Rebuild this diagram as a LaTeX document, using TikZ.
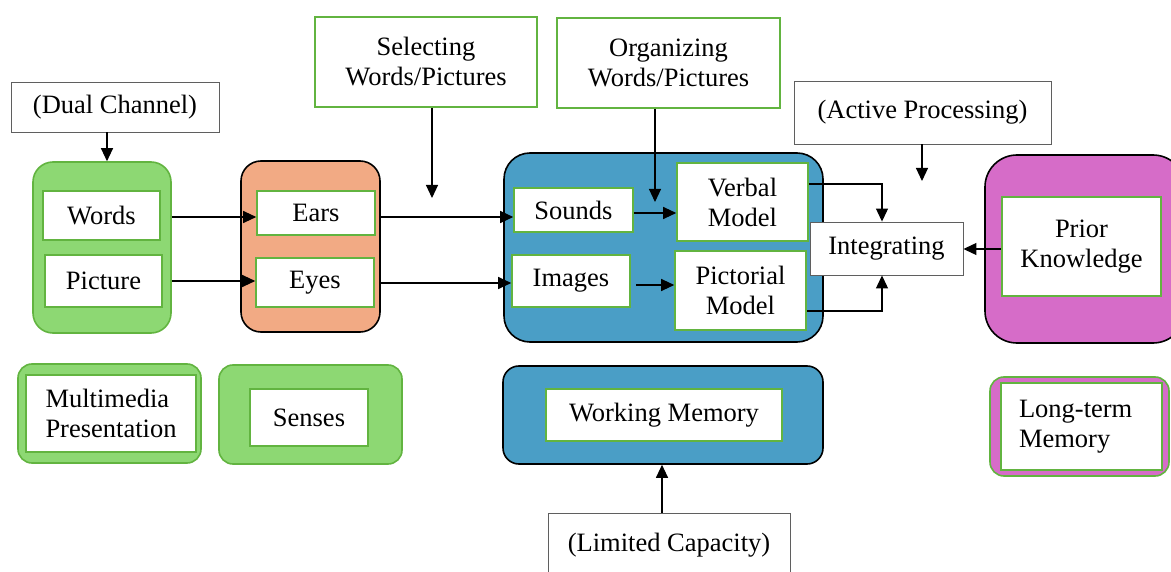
\documentclass[tikz,border=0pt]{standalone}
\usepackage{fontspec}
\setmainfont{Liberation Serif}
\usetikzlibrary{arrows.meta,calc}
\definecolor{lgreen}{RGB}{141,216,115}
\definecolor{gborder}{RGB}{98,180,64}
\definecolor{orangefill}{RGB}{242,170,132}
\definecolor{bluefill}{RGB}{74,158,198}
\definecolor{pinkfill}{RGB}{214,108,200}
\definecolor{notegray}{RGB}{95,95,95}
\begin{document}
\begin{tikzpicture}[x=1pt,y=-1pt,
  grp/.style={draw=black, line width=1.6pt, rounded corners=20pt, inner sep=0pt},
  leg/.style={draw=gborder, line width=1.6pt, rounded corners=14pt, inner sep=0pt},
  inbox/.style={draw=gborder, fill=white, line width=1.6pt, inner sep=2pt, align=center, font=\fontsize{26.5}{30}\selectfont},
  note/.style={draw=notegray, fill=white, line width=0.9pt, inner sep=2pt, align=center, font=\fontsize{26.5}{30}\selectfont},
  arr/.style={-{Triangle[length=13pt,width=12pt]}, line width=1.1pt},
  ln/.style={line width=1pt}]
\clip (0,0) rectangle (1171,572);
\fill[white] (0,0) rectangle (1171,572);

% group containers
\node[grp, draw=gborder, fill=lgreen, minimum width=138pt, minimum height=171pt] (mmgrp) at (102,247.5) {};
\node[grp, fill=orangefill, minimum width=139pt, minimum height=171pt] (sgrp) at (310.5,246.5) {};
\node[grp, fill=bluefill, rounded corners=26pt, minimum width=319pt, minimum height=189pt] (wmgrp) at (663.5,247.5) {};
\node[grp, fill=pinkfill, rounded corners=32pt, minimum width=200pt, minimum height=188pt] (ltgrp) at (1085,249) {};

% top notes
\node[note, minimum width=208pt, minimum height=50pt] (dual) at (115,107) {(Dual Channel)};
\node[inbox, minimum width=222pt, minimum height=90pt] (sel) at (426,62) {Selecting\\Words/Pictures};
\node[inbox, minimum width=223pt, minimum height=90pt] (org) at (668.5,63) {Organizing\\Words/Pictures};
\node[note, minimum width=257pt, minimum height=63pt] (act) at (922.5,112.5) {(Active Processing)};

% inner boxes
\node[inbox, minimum width=117pt, minimum height=49pt] (words) at (101.5,215.5) {Words};
\node[inbox, minimum width=117pt, minimum height=52pt] (pic) at (103.5,281) {Picture};
\node[inbox, minimum width=118pt, minimum height=44pt] (ears) at (316,213) {Ears};
\node[inbox, minimum width=118pt, minimum height=49pt] (eyes) at (315,282.5) {Eyes};
\node[inbox, minimum width=119pt, minimum height=44pt] (sounds) at (573.5,210) {Sounds};
\node[inbox, minimum width=118pt, minimum height=52pt] (images) at (571,281) {Images};
\node[inbox, minimum width=131pt, minimum height=78pt] (verbal) at (742.5,202) {Verbal\\Model};
\node[inbox, minimum width=131pt, minimum height=79pt] (pict) at (740.5,290.5) {Pictorial\\Model};
\node[note, minimum width=153pt, minimum height=53pt] (integ) at (886.5,248.5) {Integrating};
\node[inbox, minimum width=159pt, minimum height=99pt] (prior) at (1081.5,246.5) {Prior\\Knowledge};

% legend
\node[leg, fill=lgreen, minimum width=183pt, minimum height=99pt] (mmleg) at (109.5,413.5) {};
\node[inbox, align=left, minimum width=170pt, minimum height=77pt] (mmtxt) at (111,413.5) {Multimedia\\Presentation};
\node[leg, fill=lgreen, minimum width=183pt, minimum height=99pt] (sleg) at (310.5,414.5) {};
\node[inbox, minimum width=118pt, minimum height=57pt] (stxt) at (309,417.5) {Senses};
\node[grp, fill=bluefill, rounded corners=16pt, minimum width=320pt, minimum height=98pt] (wmleg) at (663,415) {};
\node[inbox, minimum width=236pt, minimum height=52pt] (wmtxt) at (664,415) {Working Memory};
\node[leg, fill=pinkfill, minimum width=179pt, minimum height=99pt] (ltleg) at (1079.5,426.5) {};
\node[inbox, align=left, minimum width=161pt, minimum height=87pt, text width=125pt] (lttxt) at (1081.5,426.5) {Long-term\\Memory};
\node[note, minimum width=242pt, minimum height=64pt] (lim) at (669,545) {(Limited Capacity)};

% free ends
\coordinate (selT) at (432,198);
\coordinate (orgT) at (655,202);
\coordinate (actT) at (922,181);

% connectors
\draw[arr] ([xshift=-8pt]dual.south) -- ([xshift=-8pt]dual.south |- mmgrp.north);
\draw[arr] (mmgrp.east |- 0,217) -- (ears.west |- 0,217);
\draw[arr] (mmgrp.east |- pic.east) -- (eyes.west |- pic.east);
\draw[arr] (sgrp.east |- 0,217) -- (sounds.west |- 0,217);
\draw[arr] (sgrp.east |- 0,283) -- (images.west |- 0,283);
\draw[arr] ([xshift=6pt]sel.south) -- (selT);
\draw[arr] (org.south -| orgT) -- (orgT);
\draw[arr] (act.south -| actT) -- (actT);
\draw[arr] (sounds.east |- 0,213) -- (verbal.west |- 0,213);
\draw[arr] ([xshift=5pt]images.east |- 0,285) -- (pict.west |- 0,285);
\draw[arr] (verbal.east |- 0,184) -| ([xshift=-4.5pt]integ.north);
\draw[arr] (pict.east |- 0,311) -| ([xshift=-4.5pt]integ.south);
\draw[arr] (prior.west |- 0,249) -- (integ.east |- 0,249);
\draw[arr] ([xshift=-7pt]lim.north) -- ([xshift=-7pt]lim.north |- wmleg.south);
\end{tikzpicture}
\end{document}
